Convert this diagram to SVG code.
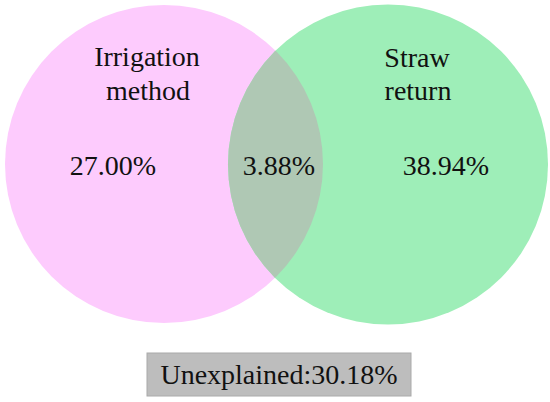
<svg xmlns="http://www.w3.org/2000/svg" width="550" height="402" viewBox="0 0 550 402">
<style>
text{font-family:"Liberation Serif","Times New Roman",serif;font-size:28px;fill:#111;text-anchor:middle}
</style>
<defs>
<clipPath id="clipL"><circle cx="164" cy="164" r="159"/></clipPath>
</defs>
<rect width="550" height="402" fill="#fff"/>
<g id="irrigation">
<circle cx="164" cy="164" r="159" fill="#fdcbfd"/>
</g>
<g id="straw">
<circle cx="388" cy="164.5" r="160" fill="#9eeeb8"/>
</g>
<g id="overlap">
<circle cx="388" cy="164.5" r="160" fill="#afc8b4" clip-path="url(#clipL)"/>
</g>
<g id="labels">
<text x="147" y="66">Irrigation</text>
<text x="148" y="100">method</text>
<text x="113" y="175">27.00%</text>
<text x="279" y="175">3.88%</text>
<text x="417" y="67">Straw</text>
<text x="418" y="100">return</text>
<text x="446" y="175">38.94%</text>
</g>
<g id="unexplained">
<rect x="147" y="353" width="264" height="43" fill="#bdbdbd" stroke="#aaa" stroke-width="1"/>
<text x="279" y="384">Unexplained:30.18%</text>
</g>
<g id="connectors"/>
</svg>
